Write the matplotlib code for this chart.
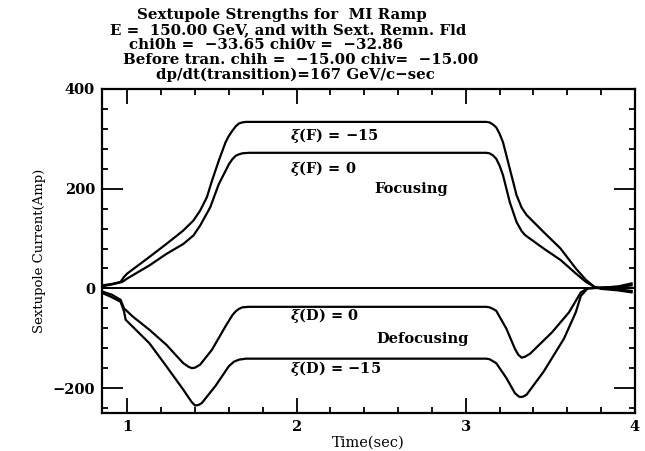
import matplotlib
matplotlib.use("Agg")
import matplotlib.pyplot as plt
from matplotlib.ticker import MultipleLocator

plt.rcParams["font.family"] = ["DejaVu Serif"]
plt.rcParams["font.weight"] = "bold"
plt.rcParams["mathtext.fontset"] = "dejavuserif"

# curves (time in sec, current in Amp)
t_f15 = [0.85, 0.91, 0.96, 0.98, 1.00, 1.13, 1.23, 1.33, 1.39, 1.43, 1.47, 1.50, 1.54,
         1.58, 1.60, 1.62, 1.64, 1.66, 1.68, 1.70, 3.12, 3.14, 3.16, 3.18, 3.20, 3.22,
         3.26, 3.30, 3.33, 3.36, 3.46, 3.56, 3.65, 3.71, 3.76, 3.80, 3.90, 3.98]
v_f15 = [6, 9, 13, 23, 30, 63, 89, 116, 136, 156, 183, 216, 256,
         293, 306, 316, 325, 331, 333, 334, 334, 333, 329, 323, 310, 293,
         240, 187, 162, 147, 113, 80, 40, 17, 3, -1, -4, -8]

t_f0 = [0.85, 0.91, 0.97, 1.00, 1.13, 1.23, 1.33, 1.39, 1.43, 1.49, 1.54, 1.60, 1.62,
        1.64, 1.66, 1.68, 1.72, 3.12, 3.14, 3.16, 3.18, 3.20, 3.22, 3.26, 3.30, 3.33,
        3.35, 3.46, 3.56, 3.65, 3.71, 3.76, 3.80, 3.90, 3.98]
v_f0 = [4, 8, 13, 20, 46, 69, 89, 106, 126, 163, 209, 249, 259,
        266, 269, 271, 272, 272, 271, 267, 260, 246, 227, 173, 133, 115,
        107, 80, 57, 30, 13, 3, 0, -2, -5]

t_d0 = [0.85, 0.91, 0.96, 0.98, 1.03, 1.13, 1.23, 1.33, 1.36, 1.38, 1.40, 1.43, 1.50,
        1.58, 1.62, 1.64, 1.66, 1.68, 1.72, 3.12, 3.14, 3.16, 3.18, 3.24, 3.29, 3.31,
        3.33, 3.35, 3.38, 3.51, 3.61, 3.68, 3.72, 3.80, 3.90, 3.98]
v_d0 = [-6, -13, -23, -40, -56, -83, -113, -150, -157, -160, -159, -153, -123,
        -76, -54, -46, -41, -38, -37, -37, -38, -41, -45, -81, -121, -133,
        -139, -137, -131, -88, -48, -8, 0, 2, 3, 6]

t_d15 = [0.85, 0.91, 0.96, 0.98, 0.99, 1.13, 1.23, 1.33, 1.36, 1.38, 1.40, 1.42, 1.44,
         1.52, 1.60, 1.63, 1.66, 1.70, 3.12, 3.14, 3.16, 3.18, 3.24, 3.29, 3.31, 3.32,
         3.34, 3.36, 3.46, 3.58, 3.65, 3.68, 3.72, 3.80, 3.90, 3.98]
v_d15 = [-9, -18, -27, -46, -63, -110, -156, -203, -218, -228, -235, -234, -230,
         -196, -156, -147, -143, -141, -141, -142, -146, -150, -180, -210, -216, -218,
         -217, -213, -167, -101, -48, -15, 0, 1, 4, 10]

title_lines = ["Sextupole Strengths for  MI Ramp",
               "E =  150.00 GeV, and with Sext. Remn. Fld",
               "chi0h =  \u221233.65 chi0v =  \u221232.86",
               "Before tran. chih =  \u221215.00 chiv=  \u221215.00",
               "dp/dt(transition)=167 GeV/c\u2212sec"]
title_x = [282, 288, 266, 301, 295]

fig = plt.figure(figsize=(6.45, 4.51), dpi=100)
ax = fig.add_axes([102 / 645, 1 - 413 / 451, 533 / 645, 324 / 451])

for t, v in [(t_f15, v_f15), (t_f0, v_f0), (t_d0, v_d0), (t_d15, v_d15)]:
    ax.plot(t, v, color="black", lw=1.6, solid_joinstyle="round")
ax.axhline(0, color="black", lw=1.4)

ax.set_xlim(0.85, 4.0)
ax.set_ylim(-250, 400)
ax.xaxis.set_major_locator(MultipleLocator(1))
ax.xaxis.set_minor_locator(MultipleLocator(0.2))
ax.yaxis.set_major_locator(MultipleLocator(200))
ax.yaxis.set_minor_locator(MultipleLocator(40))
ax.tick_params(which="both", direction="in", top=True, right=True, width=1.3,
               labelsize=10.5)
ax.tick_params(axis="x", which="major", length=11, pad=5)
ax.tick_params(axis="y", which="major", length=15, pad=5)
ax.tick_params(which="minor", length=4)
ax.set_yticks([400, 200, 0, -200])
ax.set_yticklabels(["400", "200", "0", "\u2212200"])
for s in ax.spines.values():
    s.set_linewidth(1.6)

ax.set_xlabel("Time(sec)", fontsize=10.5, labelpad=1)
ax.set_ylabel("Sextupole Current(Amp)", fontsize=9.5, labelpad=5)

lab = dict(fontsize=10.5, va="center", ha="left")
ax.text(1.96, 306, "$\\xi$(F) = \u221215", **lab)
ax.text(1.96, 240, "$\\xi$(F) = 0", **lab)
ax.text(2.46, 200, "Focusing", **lab)
ax.text(1.96, -54, "$\\xi$(D) = 0", **lab)
ax.text(2.47, -102, "Defocusing", **lab)
ax.text(1.96, -160, "$\\xi$(D) = \u221215", **lab)

for i, line in enumerate(title_lines):
    fig.text(title_x[i] / 645, 1 - (15 + 15 * i) / 451, line, ha="center",
             va="center", fontsize=10.8)

fig.savefig("out.png", dpi=100)
